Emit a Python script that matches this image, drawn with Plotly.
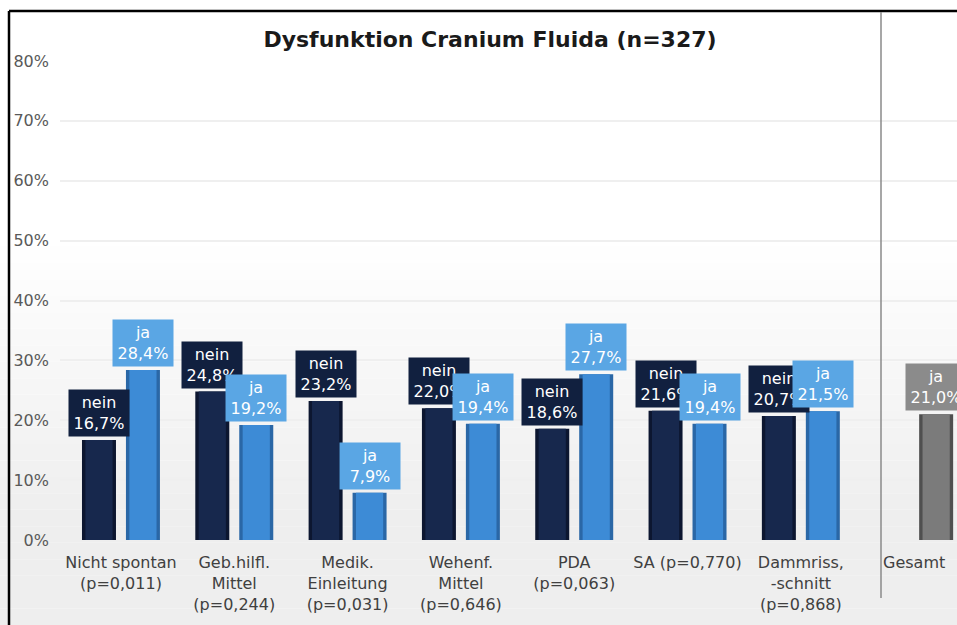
import plotly.graph_objects as go

categories = ["Nicht spontan<br>(p=0,011)", "Geb.hilfl.<br>Mittel<br>(p=0,244)",
              "Medik.<br>Einleitung<br>(p=0,031)", "Wehenf.<br>Mittel<br>(p=0,646)",
              "PDA<br>(p=0,063)", "SA (p=0,770)", "Dammriss,<br>-schnitt<br>(p=0,868)", "Gesamt"]
nein = [16.7, 24.8, 23.2, 22.0, 18.6, 21.6, 20.7, None]
ja = [28.4, 19.2, 7.9, 19.4, 27.7, 19.4, 21.5, None]
gesamt = [None, None, None, None, None, None, None, 21.0]
title = "Dysfunktion Cranium Fluida (n=327)"

FONT = "DejaVu Sans, Verdana, sans-serif"
W, H = 957, 625
L, R, T, B = 60, 0, 61, 85
pw, ph = W - L - R, H - T - B

def px_x(p):
    return (p - L) / pw

def px_y(p):
    return (H - B - p) / ph

NEIN_C, NEIN_EDGE, NEIN_BOX = "#17284d", "#0c1630", "#11203f"
JA_C, JA_EDGE, JA_BOX = "#3d8bd6", "#2a67a6", "#5aa6e4"
GES_C, GES_EDGE, GES_BOX = "#7b7b7b", "#4f4f4f", "#8b8b8b"

fig = go.Figure()
specs = [(nein, -0.344, NEIN_C, NEIN_EDGE, "nein"),
         (ja, 0.044, JA_C, JA_EDGE, "ja"),
         (gesamt, 0.044, GES_C, GES_EDGE, "ja")]
for vals, off, col, edge, name in specs:
    fig.add_trace(go.Bar(x=categories, y=vals, offset=off, width=0.3,
                         marker=dict(color=edge, line=dict(width=0)),
                         showlegend=False, hoverinfo="skip"))
    fig.add_trace(go.Bar(x=categories, y=vals, offset=off + 0.03, width=0.24,
                         marker=dict(color=col, line=dict(width=0)),
                         showlegend=False, name=name))

annotations = []
for vals, dx, box in [(nein, -0.194, NEIN_BOX), (ja, 0.194, JA_BOX), (gesamt, 0.194, GES_BOX)]:
    lab = "nein" if vals is nein else "ja"
    for i, v in enumerate(vals):
        if v is None:
            continue
        annotations.append(dict(
            x=i + dx, y=v, xref="x", yref="y", yanchor="bottom", yshift=3,
            text=f"{lab}<br>{v:.1f}%".replace(".", ","), showarrow=False,
            bgcolor=box, width=56, height=42, borderpad=2,
            font=dict(family=FONT, size=16, color="white")))

shapes = []
# background gradient
top_px, bot_px = 230, 625
n = 24
for k in range(n):
    y0p = top_px + (bot_px - top_px) * k / n
    y1p = top_px + (bot_px - top_px) * (k + 1) / n
    t = (k + 0.5) / n
    g = int(round(255 - min(1.0, t * 1.35) * 17))
    shapes.append(dict(type="rect", xref="paper", yref="paper", layer="below",
                       x0=px_x(0), x1=px_x(W), y0=px_y(y1p), y1=px_y(y0p),
                       fillcolor=f"rgb({g},{g},{g})", line=dict(width=0)))
# frame
shapes.append(dict(type="line", xref="paper", yref="paper", x0=px_x(9), x1=px_x(9),
                   y0=px_y(H + 5), y1=px_y(11), line=dict(color="black", width=2.5)))
shapes.append(dict(type="line", xref="paper", yref="paper", x0=px_x(9), x1=px_x(W + 5),
                   y0=px_y(11), y1=px_y(11), line=dict(color="black", width=2.5)))
# separator
shapes.append(dict(type="line", xref="paper", yref="paper", x0=px_x(881), x1=px_x(881),
                   y0=px_y(598), y1=px_y(12), line=dict(color="#8a8a8a", width=1.5)))

fig.update_layout(
    width=W, height=H, margin=dict(l=L, r=R, t=T, b=B),
    paper_bgcolor="white", plot_bgcolor="rgba(0,0,0,0)",
    barmode="overlay",
    title=dict(text=f"<b>{title}</b>", x=490 / W, xref="container",
               y=1 - 39 / H, yref="container", xanchor="center", yanchor="middle",
               font=dict(family=FONT, size=22, color="#1a1a1a")),
    xaxis=dict(range=[-0.538, 7.378], showgrid=False, zeroline=False, showline=False,
               ticks="", ticklabelstandoff=11,
               tickfont=dict(family=FONT, size=16, color="#404040")),
    yaxis=dict(range=[0, 80], dtick=10, ticksuffix="%", showgrid=True, gridcolor="#efefef",
               gridwidth=1.5, zeroline=False, showline=False, ticks="", ticklabelstandoff=10,
               tickfont=dict(family=FONT, size=16, color="#595959")),
    annotations=annotations, shapes=shapes,
)

fig.write_html("out.html", config={"displayModeBar": False},
               post_script="document.body.style.margin='0';document.body.style.overflow='hidden';")
